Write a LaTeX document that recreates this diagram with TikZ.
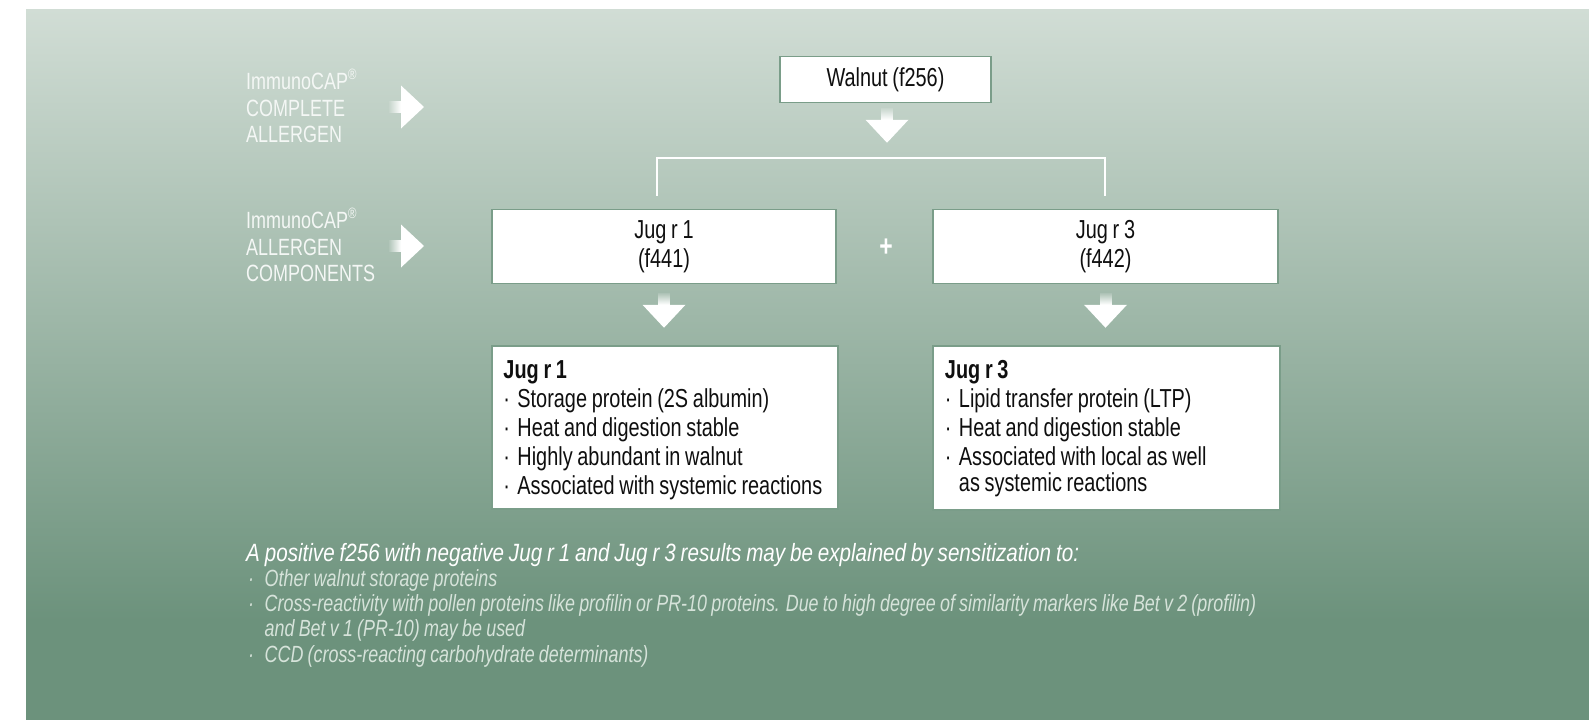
\documentclass[tikz,border=0pt]{standalone}
\usepackage{fontspec}
\setmainfont{Liberation Sans}[FakeStretch=0.765, WordSpace=0.85]
\usetikzlibrary{fadings,calc}
\definecolor{bgtop}{RGB}{209,221,213}
\definecolor{bgbot}{RGB}{108,146,124}
\definecolor{boxline}{RGB}{122,157,137}
\definecolor{lighttext}{RGB}{214,227,218}
\definecolor{labeltext}{RGB}{244,247,245}
\definecolor{boxtext}{RGB}{15,15,15}
\tikzfading[name=fadeleft, left color=transparent!90, right color=transparent!0]
\tikzfading[name=fadetop, top color=transparent!90, bottom color=transparent!0]
\newcommand\bul{\makebox[14pt][l]{·}}
\newcommand\nbul{\makebox[18.5pt][l]{\hspace{2pt}·}}
\newcommand\regmark{\raisebox{0.45em}{\fontsize{15}{15}\selectfont ®}}
\begin{document}
\begin{tikzpicture}[x=1pt,y=-1pt,
  box/.style={draw=boxline, line width=1.5pt, fill=white, inner sep=0pt, text=boxtext,
              font=\fontsize{26}{29}\selectfont},
  boxtxt/.style={anchor=west, align=left, inner sep=0pt, text=boxtext,
              font=\fontsize{26}{29}\selectfont},
  sidelabel/.style={anchor=west, align=left, inner sep=0pt, text=labeltext,
              font=\fontsize{23.5}{26.5}\selectfont},
  bracket/.style={draw=white, line width=2.2pt},
  rarr/.pic={\fill[white] (0,0) -- (-23,-21.5) -- (-23,21.5) -- cycle;
             \fill[white, path fading=fadeleft] (-23.2,-6) rectangle (-35,6);},
  darr/.pic={\fill[white] (0,0) -- (-21.5,-23) -- (21.5,-23) -- cycle;
             \fill[white, path fading=fadetop] (-6,-23.2) rectangle (6,-35);}
]
\useasboundingbox (0,0) rectangle (1589,720);
% background
\fill[white] (0,0) rectangle (1589,720);
\shade[top color=bgtop, bottom color=bgbot] (26,9) rectangle (1589,621);
\fill[bgbot] (26,620) rectangle (1589,720);

% side labels
\node[sidelabel] (lab1) at (246,106) {ImmunoCAP\regmark\\COMPLETE\\ALLERGEN};
\node[sidelabel] (lab2) at (246,245) {ImmunoCAP\regmark\\ALLERGEN\\COMPONENTS};
\pic at (424,107) {rarr};
\pic at (424,246) {rarr};

% boxes
\node[box, minimum width=211pt, minimum height=46pt] (walnut) at (885.5,79.5) {Walnut (f256)};
\node[box, minimum width=344pt, minimum height=74pt, align=center] (jug1) at (664,246.5) {Jug r 1\\(f441)};
\node[box, minimum width=345pt, minimum height=74pt, align=center] (jug3) at (1105.5,246.5) {Jug r 3\\(f442)};
\node[font=\bfseries\fontsize{30}{30}\selectfont, text=white, inner sep=0pt] (plus) at (886,248) {+};

\node[box, minimum width=346pt, minimum height=163pt] (info1) at (665,427.5) {};
\node[boxtxt] (info1txt) at ($(info1.west)+(12,3)$)
 {\textbf{Jug r 1}\\
  \bul Storage protein (2S albumin)\\
  \bul Heat and digestion stable\\
  \bul Highly abundant in walnut\\
  \bul Associated with systemic reactions};
\node[box, minimum width=347pt, minimum height=164pt] (info3) at (1106.5,428) {};
\node[boxtxt] (info3txt) at ($(info3.west)+(12.5,1)$)
 {\textbf{Jug r 3}\\
  \bul Lipid transfer protein (LTP)\\
  \bul Heat and digestion stable\\
  \bul Associated with local as well\\[-3pt]
  \hspace*{14pt}as systemic reactions};

% arrows
\pic at ($(walnut.south)+(1.5,39.5)$) {darr};
\pic at ($(jug1.south)+(0,43.5)$) {darr};
\pic at ($(jug3.south)+(0,43.5)$) {darr};

% bracket
\coordinate (bl) at ($(jug1.north)+(-7,-13)$);
\coordinate (br) at ($(jug3.north)+(-0.5,-13)$);
\draw[bracket] (bl) -- ++(0,-38) -| (br);

% note
\node[anchor=north west, align=left, inner sep=0pt, text=lighttext,
      font=\fontsize{23.4}{25.2}\selectfont\itshape] (note) at (246,543)
 {{\color{white}\fontsize{25}{25.2}\selectfont\addfontfeature{FakeStretch=0.825}A positive f256 with negative Jug r 1 and Jug r 3 results may be explained by sensitization to:}\\
  \nbul Other walnut storage proteins\\
  \nbul Cross-reactivity with pollen proteins like profilin or PR-10 proteins. Due to high degree of similarity markers like Bet v 2 (profilin)\\
  \hspace*{18.5pt}and Bet v 1 (PR-10) may be used\\
  \nbul CCD (cross-reacting carbohydrate determinants)};
\end{tikzpicture}
\end{document}
